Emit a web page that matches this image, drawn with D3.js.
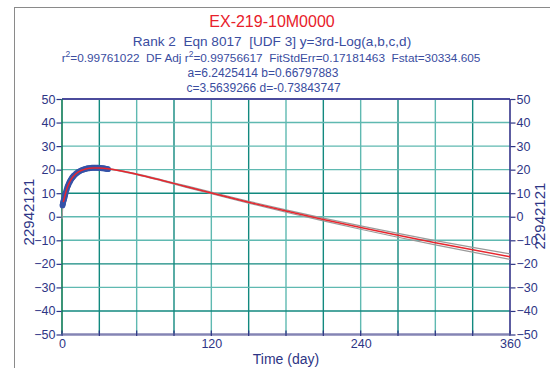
<!DOCTYPE html>
<html><head><meta charset="utf-8">
<script src="https://cdn.jsdelivr.net/npm/d3@7"></script>
<style>
html,body{margin:0;padding:0;background:#fff;}
svg{display:block;font-family:"Liberation Sans",Arial,sans-serif;}
text{white-space:pre;}
</style></head>
<body>
<svg id="c" width="550" height="368"></svg>
<script>
// ---- data ----
const dataDays = [0.4,0.6,0.8,1,1.25,1.5,1.75,2,2.25,2.5,2.75,3,3.5,4,4.5,5,5.5,6,6.5,7,7.5,8,8.5,9,9.5,10,11,12,13,14,15,16,17,18,19,20,21,22,23,24,25,26,27,28,29,30,31,32,33,34,35,36,37];
const dataValues = [4.8,5.3,5.8,6.3,6.8,7.2,7.7,8.1,8.8,9.2,9.9,10.2,11.3,12.0,12.9,13.4,14.1,14.7,15.1,15.7,16.0,16.5,16.8,17.1,17.4,17.7,18.2,18.6,19.0,19.3,19.6,19.8,20.0,20.2,20.3,20.5,20.6,20.6,20.7,20.8,20.8,20.8,20.8,20.8,20.8,20.7,20.7,20.6,20.6,20.5,20.4,20.3,20.2];

const fitDays = [1,2,3,4,5,6,7,8,9,10,12,14,16,18,20,22,25,28,30,33,37,40,50,60,80,100,120,150,180,210,240,270,300,330,360];
const fitValues = [6.24,8.17,10.30,12.05,13.47,14.63,15.60,16.40,17.08,17.66,18.58,19.25,19.75,20.12,20.38,20.55,20.69,20.72,20.69,20.58,20.36,20.14,19.19,18.04,15.47,12.78,10.10,6.17,2.41,-1.18,-4.61,-7.89,-11.03,-14.04,-16.94];

const lowerDays = [0.1,0.5,1,2,5,10,20,30,40,60,80,100,120,150,180,210,240,270,300,330,360];
const lowerValues = [-1.0,3.6,5.9,7.9,13.3,17.5,20.25,20.55,20.0,17.85,15.25,12.5,9.75,5.77,1.91,-1.78,-5.31,-8.69,-11.93,-15.04,-18.09];
const upperDays = [1,2,5,10,20,30,40,60,80,100,120,150,180,210,240,270,300,330,360];
const upperValues = [6.6,8.45,13.65,17.8,20.5,20.83,20.28,18.24,15.72,13.08,10.45,6.57,2.91,-0.58,-3.91,-7.09,-10.13,-13.04,-15.79];

const xTickLabels = [0,120,240,360];
const xGrid = [30,60,90,120,150,180,210,240,270,300,330];
const yTicks = [50,40,30,20,10,0,-10,-20,-30,-40,-50];
const yGrid = [40,30,20,10,0,-10,-20,-30,-40];

const titleText = "EX-219-10M0000";
const subtitle = "Rank 2  Eqn 8017  [UDF 3] y=3rd-Log(a,b,c,d)";
const paramLine1 = "a=6.2425414 b=0.66797883";
const paramLine2 = "c=3.5639266 d=-0.73843747";
const yLabel = "22942121";
const xLabel = "Time (day)";

// ---- drawing ----
const svg = d3.select("#c");
const x = d3.scaleLinear().domain([0,360]).range([62,510]);
const y = d3.scaleLinear().domain([-50,50]).range([334.5,99]);

// outer frame
svg.append("line").attr("x1",14.5).attr("x2",14.5).attr("y1",7).attr("y2",368).attr("stroke","#8a8a8a").attr("stroke-width",1);
svg.append("line").attr("x1",14).attr("x2",550).attr("y1",7.5).attr("y2",7.5).attr("stroke","#8a8a8a").attr("stroke-width",1);

// grid
svg.append("g").selectAll("line").data(xGrid).join("line")
  .attr("x1",d=>x(d)).attr("x2",d=>x(d)).attr("y1",y(50)).attr("y2",y(-50))
  .attr("stroke",(d,i)=>i%2===0?"#12897f":"#5fb9b1").attr("stroke-width",1.4);
svg.append("g").selectAll("line").data(yGrid).join("line")
  .attr("x1",x(0)).attr("x2",x(360)).attr("y1",d=>y(d)).attr("y2",d=>y(d))
  .attr("stroke",d=>[10,-20,-40].includes(d)?"#12897f":"#5fb9b1").attr("stroke-width",1.4);

// frame lines
svg.append("line").attr("x1",x(0)).attr("x2",x(360)).attr("y1",y(50)).attr("y2",y(50)).attr("stroke","#4b4b9c").attr("stroke-width",2);
svg.append("line").attr("x1",x(0)).attr("x2",x(0)).attr("y1",y(50)).attr("y2",y(-50)).attr("stroke","#0b7a55").attr("stroke-width",1.6);
svg.append("line").attr("x1",x(360)).attr("x2",x(360)).attr("y1",y(50)).attr("y2",y(-50)).attr("stroke","#34348a").attr("stroke-width",1.6);
svg.append("line").attr("x1",x(0)).attr("x2",x(360)).attr("y1",y(-50)).attr("y2",y(-50)).attr("stroke","#8484b4").attr("stroke-width",2.5);

// axes
const axisColor = "#2e3585";
const yAxisL = d3.axisLeft(y).tickValues(yTicks).tickSize(5).tickPadding(1).tickFormat(d3.format("d"));
const yAxisR = d3.axisRight(y).tickValues(yTicks).tickSize(5).tickPadding(1).tickFormat(d3.format("d"));
const xAxis = d3.axisBottom(x).tickValues(xTickLabels).tickSize(0).tickPadding(5).tickFormat(d3.format("d"));
function styleAxis(g){
  g.select(".domain").remove();
  g.selectAll("line").attr("stroke",axisColor).attr("stroke-width",1.2);
  g.selectAll("text").attr("fill",axisColor).attr("font-size",12.5).attr("font-family","Liberation Sans, Arial, sans-serif");
}
svg.append("g").attr("transform",`translate(${x(0)-0.5},0)`).call(yAxisL).call(styleAxis);
svg.append("g").attr("transform",`translate(${x(360)+0.5},0)`).call(yAxisR).call(styleAxis);
svg.append("g").attr("transform",`translate(0,${y(-50)})`).call(xAxis).call(styleAxis);
// inward x ticks every 30 days
svg.append("g").selectAll("line").data([0].concat(xGrid).concat([360])).join("line")
  .attr("x1",d=>x(d)).attr("x2",d=>x(d)).attr("y1",y(-50)-4).attr("y2",y(-50)+1.5)
  .attr("stroke",axisColor).attr("stroke-width",1.2);

// confidence lines
const line = d3.line().x(d=>x(d[0])).y(d=>y(d[1])).curve(d3.curveMonotoneX);
svg.append("path").datum(lowerDays.map((d,i)=>[d,lowerValues[i]])).attr("d",line)
  .attr("fill","none").attr("stroke","#9a9a9a").attr("stroke-width",1.2);
svg.append("path").datum(upperDays.map((d,i)=>[d,upperValues[i]])).attr("d",line)
  .attr("fill","none").attr("stroke","#9a9a9a").attr("stroke-width",1.2);

// data points
svg.append("g").selectAll("circle").data(dataDays.map((d,i)=>[d,dataValues[i]])).join("circle")
  .attr("cx",d=>x(d[0])).attr("cy",d=>y(d[1])).attr("r",2.9)
  .attr("fill","#3553a8");

// fit line
svg.append("path").datum(fitDays.map((d,i)=>[d,fitValues[i]])).attr("d",line)
  .attr("fill","none").attr("stroke","#e8262e").attr("stroke-width",1.5);

// titles
const blue = "#3a4d9f";
svg.append("text").attr("x",272).attr("y",27).attr("text-anchor","middle").attr("font-size",16).attr("fill","#e8202a").text(titleText);
svg.append("text").attr("x",272).attr("y",46).attr("text-anchor","middle").attr("font-size",13.6).attr("fill",blue).text(subtitle);
const t3 = svg.append("text").attr("x",271).attr("y",61.5).attr("text-anchor","middle").attr("font-size",11.8).attr("fill",blue);
t3.append("tspan").text("r");
t3.append("tspan").attr("dy",-4.5).attr("font-size",8.5).text("2");
t3.append("tspan").attr("dy",4.5).text("=0.99761022  DF Adj r");
t3.append("tspan").attr("dy",-4.5).attr("font-size",8.5).text("2");
t3.append("tspan").attr("dy",4.5).text("=0.99756617  FitStdErr=0.17181463  Fstat=30334.605");
svg.append("text").attr("x",263).attr("y",76.5).attr("text-anchor","middle").attr("font-size",12).attr("fill",blue).text(paramLine1);
svg.append("text").attr("x",263.5).attr("y",91.5).attr("text-anchor","middle").attr("font-size",12).attr("fill",blue).text(paramLine2);

// axis titles
svg.append("text").attr("transform","translate(33.5,212) rotate(-90)").attr("text-anchor","middle").attr("font-size",15).attr("fill",axisColor).text(yLabel);
svg.append("text").attr("transform","translate(545,216) rotate(-90)").attr("text-anchor","middle").attr("font-size",15).attr("fill",axisColor).text(yLabel);
svg.append("text").attr("x",286).attr("y",364).attr("text-anchor","middle").attr("font-size",14).attr("fill",axisColor).text(xLabel);
</script>
</body></html>
